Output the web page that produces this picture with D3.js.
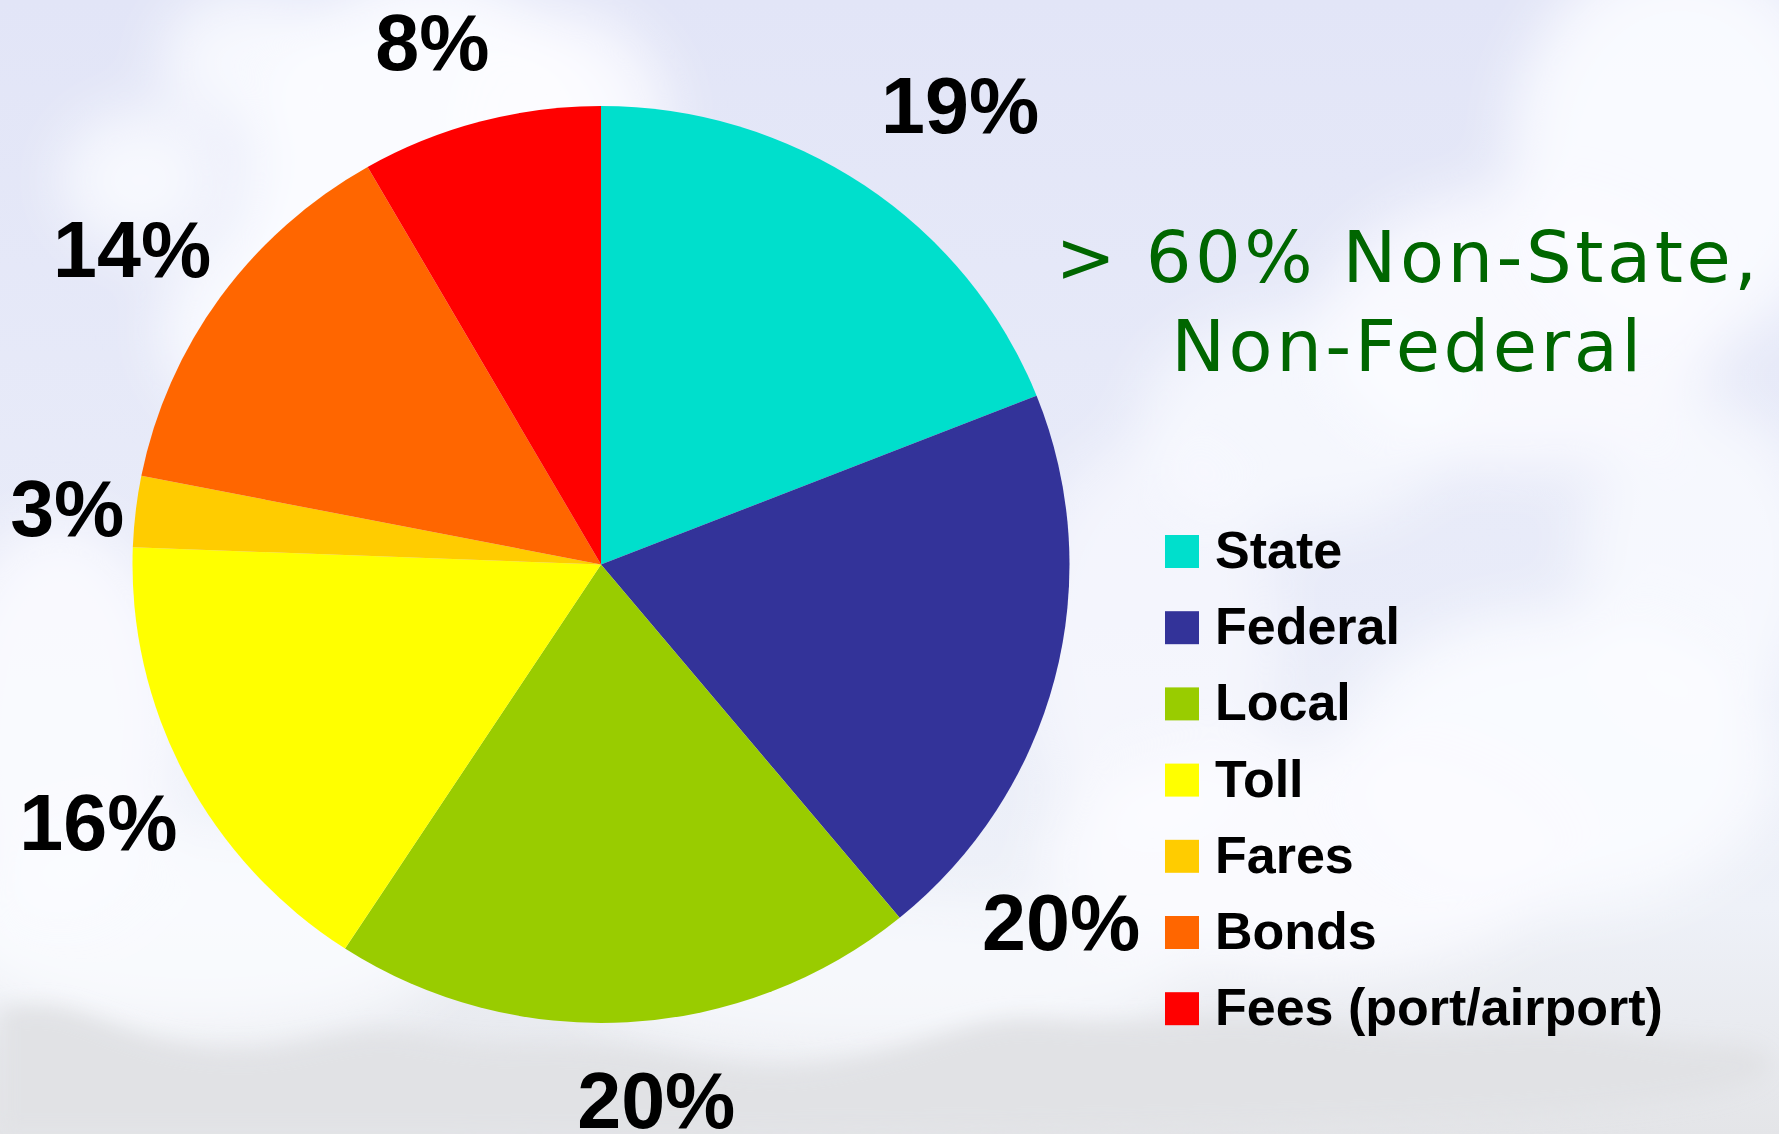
<!DOCTYPE html>
<html>
<head>
<meta charset="utf-8">
<script src="https://cdn.jsdelivr.net/npm/d3@7"></script>
<style>
  html, body { margin: 0; padding: 0; overflow: hidden; background: #e4e7f6; }
</style>
</head>
<body>
<svg id="chart" width="1779" height="1134"></svg>
<script>
/* global d3 */

// ── Data ─────────────────────────────────────────────────────────────────────
const categories = ["State", "Federal", "Local", "Toll", "Fares", "Bonds", "Fees (port/airport)"];
const shares     = [19.0, 20.0, 20.2, 16.4, 2.5, 13.6, 8.3];
const colors     = ["#00dfcc", "#333399", "#99cc00", "#ffff00", "#ffcc00", "#ff6600", "#ff0000"];
const noteLines  = ["> 60% Non-State,", "Non-Federal"];

// ── Layout ───────────────────────────────────────────────────────────────────
const W = 1779, H = 1134;
const cx = 601, cy = 564.5;      // pie centre
const rx = 468.5, ry = 458.5;    // pie is drawn slightly wider than tall
const labelPad = 85;
// labels were hand-placed in the original, offsets from the default spot
const labelNudge = [[48, -10], [-76, 222], [24, -7], [-11, 8], [16, 7], [-19, 1], [-26, 3]];

const svg = d3.select('#chart');
const defs = svg.append('defs');

// ── Background (sky + clouds + hills) ────────────────────────────────────────
const sky = defs.append('linearGradient').attr('id', 'sky')
  .attr('x1', 0).attr('y1', 0).attr('x2', 0).attr('y2', 1);
sky.append('stop').attr('offset', 0).attr('stop-color', '#e2e5f7');
sky.append('stop').attr('offset', 0.55).attr('stop-color', '#e9ecf9');
sky.append('stop').attr('offset', 0.8).attr('stop-color', '#eef1f8');
sky.append('stop').attr('offset', 1).attr('stop-color', '#e4e5e8');

defs.append('filter').attr('id', 'blur')
  .attr('x', '-50%').attr('y', '-50%').attr('width', '200%').attr('height', '200%')
  .append('feGaussianBlur').attr('stdDeviation', 28);
defs.append('filter').attr('id', 'blurS')
  .attr('x', '-50%').attr('y', '-50%').attr('width', '200%').attr('height', '200%')
  .append('feGaussianBlur').attr('stdDeviation', 10);

svg.append('rect').attr('width', W).attr('height', H).attr('fill', 'url(#sky)');

const clouds = [
  // [x, y, rx, ry, opacity]
  [430, 200, 190, 230, 0.95], [330, 330, 170, 120, 0.9], [140, 180, 80, 70, 0.8],
  [560, 120, 110, 110, 0.85], [250, 60, 90, 70, 0.8],
  [1680, 150, 170, 200, 0.9], [1520, 330, 200, 140, 0.85], [1300, 420, 160, 110, 0.7],
  [1560, 760, 220, 150, 0.9], [1300, 860, 260, 120, 0.85], [1150, 640, 130, 200, 0.6],
  [60, 720, 120, 200, 0.85], [200, 930, 260, 110, 0.8], [880, 980, 300, 80, 0.7],
  [1700, 560, 120, 160, 0.75]
];
svg.append('g').attr('filter', 'url(#blur)')
  .selectAll('ellipse').data(clouds).join('ellipse')
  .attr('cx', d => d[0]).attr('cy', d => d[1])
  .attr('rx', d => d[2]).attr('ry', d => d[3])
  .attr('fill', '#fbfcff').attr('opacity', d => d[4]);

// hazy hills along the bottom
const hill = [[0, 1010], [60, 1000], [140, 1040], [260, 1060], [380, 1020], [470, 1050],
  [620, 1040], [760, 1080], [900, 1050], [1010, 1010], [1100, 1030], [1250, 1010],
  [1400, 1040], [1560, 1020], [1700, 1050], [1779, 1040], [1779, 1134], [0, 1134]];
svg.append('path').attr('filter', 'url(#blurS)')
  .attr('d', d3.line().curve(d3.curveBasis)(hill))
  .attr('fill', '#e1e2e5');

// ── Pie ──────────────────────────────────────────────────────────────────────
const pie = d3.pie().sort(null).value(d => d.value)(
  categories.map((c, i) => ({ name: c, value: shares[i], color: colors[i] })));
const arc = d3.arc().innerRadius(0).outerRadius(ry);

svg.append('g')
  .attr('transform', `translate(${cx},${cy}) scale(${rx / ry},1)`)
  .selectAll('path').data(pie).join('path')
  .attr('d', arc)
  .attr('fill', d => d.data.color);

// percentage labels
const total = d3.sum(shares);
svg.append('g').selectAll('text').data(pie).join('text')
  .attr('text-anchor', 'middle')
  .attr('font-family', '"Liberation Sans", Arial, sans-serif')
  .attr('font-weight', 'bold')
  .attr('font-size', 79)
  .attr('fill', '#000')
  .attr('x', (d, i) => cx + Math.sin((d.startAngle + d.endAngle) / 2) * (rx + labelPad) + labelNudge[i][0])
  .attr('y', (d, i) => cy - Math.cos((d.startAngle + d.endAngle) / 2) * (ry + labelPad) + labelNudge[i][1] + 28)
  .text(d => Math.round(d.data.value / total * 100) + '%');

// ── Legend ───────────────────────────────────────────────────────────────────
const legend = svg.append('g').attr('transform', 'translate(1165,535)');
const rows = legend.selectAll('g').data(categories).join('g')
  .attr('transform', (d, i) => `translate(0,${i * 76.2})`);
rows.append('rect').attr('width', 34).attr('height', 33)
  .attr('fill', (d, i) => colors[i]);
rows.append('text')
  .attr('x', 50).attr('y', 33)
  .attr('font-family', '"Liberation Sans", Arial, sans-serif')
  .attr('font-weight', 'bold')
  .attr('font-size', 52)
  .attr('fill', '#000')
  .text(d => d);

// ── Note ─────────────────────────────────────────────────────────────────────
svg.append('g').selectAll('text').data(noteLines).join('text')
  .attr('x', 1408).attr('y', (d, i) => 282 + i * 89)
  .attr('text-anchor', 'middle')
  .attr('font-family', '"DejaVu Sans", Verdana, sans-serif')
  .attr('font-size', 72)
  .attr('letter-spacing', 3.5)
  .attr('fill', '#006600')
  .text(d => d);
</script>
</body>
</html>
